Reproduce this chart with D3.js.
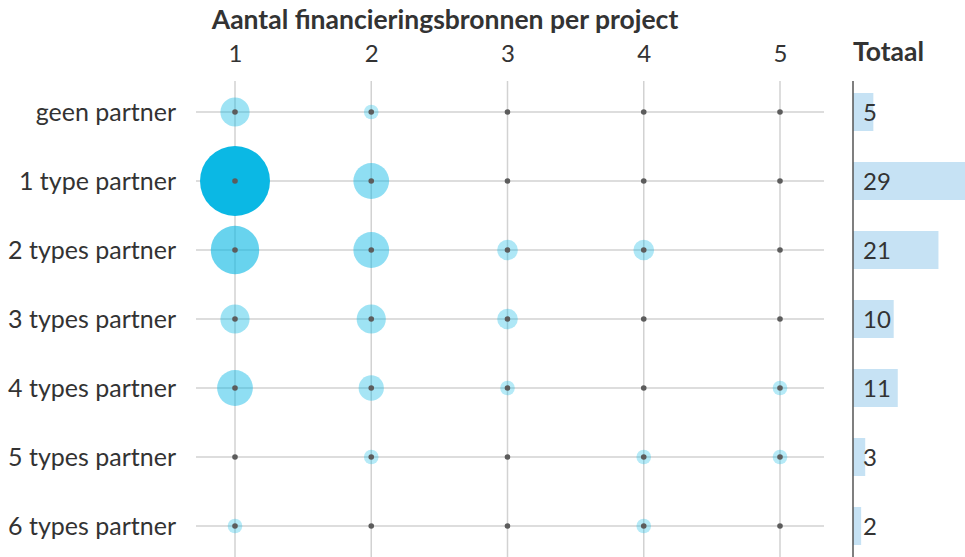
<!DOCTYPE html>
<html>
<head>
<meta charset="utf-8">
<script src="https://cdn.jsdelivr.net/npm/d3@7"></script>
<style>
  html, body { margin: 0; padding: 0; background: #fff; }
  svg { display: block; }
  text { font-family: "Lato", "Open Sans", sans-serif; fill: #333; }
</style>
</head>
<body>
<script>
// Rows: number of partner types; columns: number of funding sources
const partnerTypes = ["geen partner", "1 type partner", "2 types partner", "3 types partner",
                      "4 types partner", "5 types partner", "6 types partner"];
const fundingSources = [1, 2, 3, 4, 5];

// Project counts per row, one value per funding-source column
const counts = [
  [4, 1, 0, 0, 0],
  [23, 6, 0, 0, 0],
  [11, 6, 2, 2, 0],
  [4, 4, 2, 0, 0],
  [6, 3, 1, 0, 1],
  [0, 1, 0, 1, 1],
  [1, 0, 0, 1, 0]
];

// Row totals shown as bars
const totals = [5, 29, 21, 10, 11, 3, 2];

const title = "Aantal financieringsbronnen per project";
const totalTitle = "Totaal";

const W = 965, H = 557;
const svg = d3.select("body").append("svg").attr("width", W).attr("height", H);

const x = d3.scalePoint().domain(fundingSources).range([235, 780]);
const y = d3.scalePoint().domain(partnerTypes).range([112, 526]);
const maxVal = d3.max(counts.flat());
const r = d3.scaleSqrt().domain([0, maxVal]).range([0, 35]);
const opacity = d3.scaleLinear().domain([1, maxVal]).range([0.3, 1]);

// Grid lines
const grid = svg.append("g");
grid.selectAll("line.v").data(fundingSources).join("line")
  .attr("x1", d => x(d)).attr("x2", d => x(d))
  .attr("y1", 81).attr("y2", H)
  .attr("stroke", "#d2d2d2").attr("stroke-width", 1.5);
grid.selectAll("line.h").data(partnerTypes).join("line")
  .attr("x1", 196).attr("x2", 824)
  .attr("y1", d => y(d)).attr("y2", d => y(d))
  .attr("stroke", "#d2d2d2").attr("stroke-width", 1.5);

// Column labels on top
svg.append("g").call(d3.axisTop(x).tickSize(0).tickPadding(0))
  .attr("transform", "translate(0,62)")
  .call(g => g.select(".domain").remove())
  .call(g => g.selectAll("text").attr("font-size", 24).attr("fill", "#333")
    .attr("font-family", "Lato, sans-serif"));

svg.append("text").attr("x", 445).attr("y", 29)
  .attr("text-anchor", "middle").attr("font-size", 26.5).attr("font-weight", 700)
  .text(title);

// Row labels
svg.append("g").call(d3.axisLeft(y).tickSize(0).tickPadding(0))
  .attr("transform", "translate(176,0)")
  .call(g => g.select(".domain").remove())
  .call(g => g.selectAll("text").attr("font-size", 25).attr("fill", "#333")
    .attr("font-family", "Lato, sans-serif"));

// Bubbles
const cells = [];
counts.forEach((row, i) => row.forEach((v, j) => cells.push({ row: partnerTypes[i], col: fundingSources[j], v })));

svg.append("g").selectAll("circle").data(cells.filter(d => d.v > 0)).join("circle")
  .attr("cx", d => x(d.col)).attr("cy", d => y(d.row))
  .attr("r", d => r(d.v))
  .attr("fill", "#0bb8e4").attr("fill-opacity", d => opacity(d.v));

svg.append("g").selectAll("circle").data(cells).join("circle")
  .attr("cx", d => x(d.col)).attr("cy", d => y(d.row))
  .attr("r", 2.8).attr("fill", "#5c5c5c");

// Totals bars
const xb = d3.scaleLinear().domain([0, 29]).range([853, 971]);
const barH = 38;
const bars = svg.append("g");
bars.selectAll("rect").data(totals).join("rect")
  .attr("x", xb(0)).attr("y", (d, i) => y(partnerTypes[i]) - barH / 2)
  .attr("width", d => xb(d) - xb(0)).attr("height", barH)
  .attr("fill", "#c6e2f4");
bars.selectAll("text").data(totals).join("text")
  .attr("x", xb(0) + 10).attr("y", (d, i) => y(partnerTypes[i]))
  .attr("dy", "0.36em").attr("font-size", 24)
  .text(d => d);

svg.append("line").attr("x1", xb(0)).attr("x2", xb(0))
  .attr("y1", 81).attr("y2", H).attr("stroke", "#555").attr("stroke-width", 1.5);

svg.append("text").attr("x", 853).attr("y", 61)
  .attr("font-size", 26.5).attr("font-weight", 700).text(totalTitle);
</script>
</body>
</html>
